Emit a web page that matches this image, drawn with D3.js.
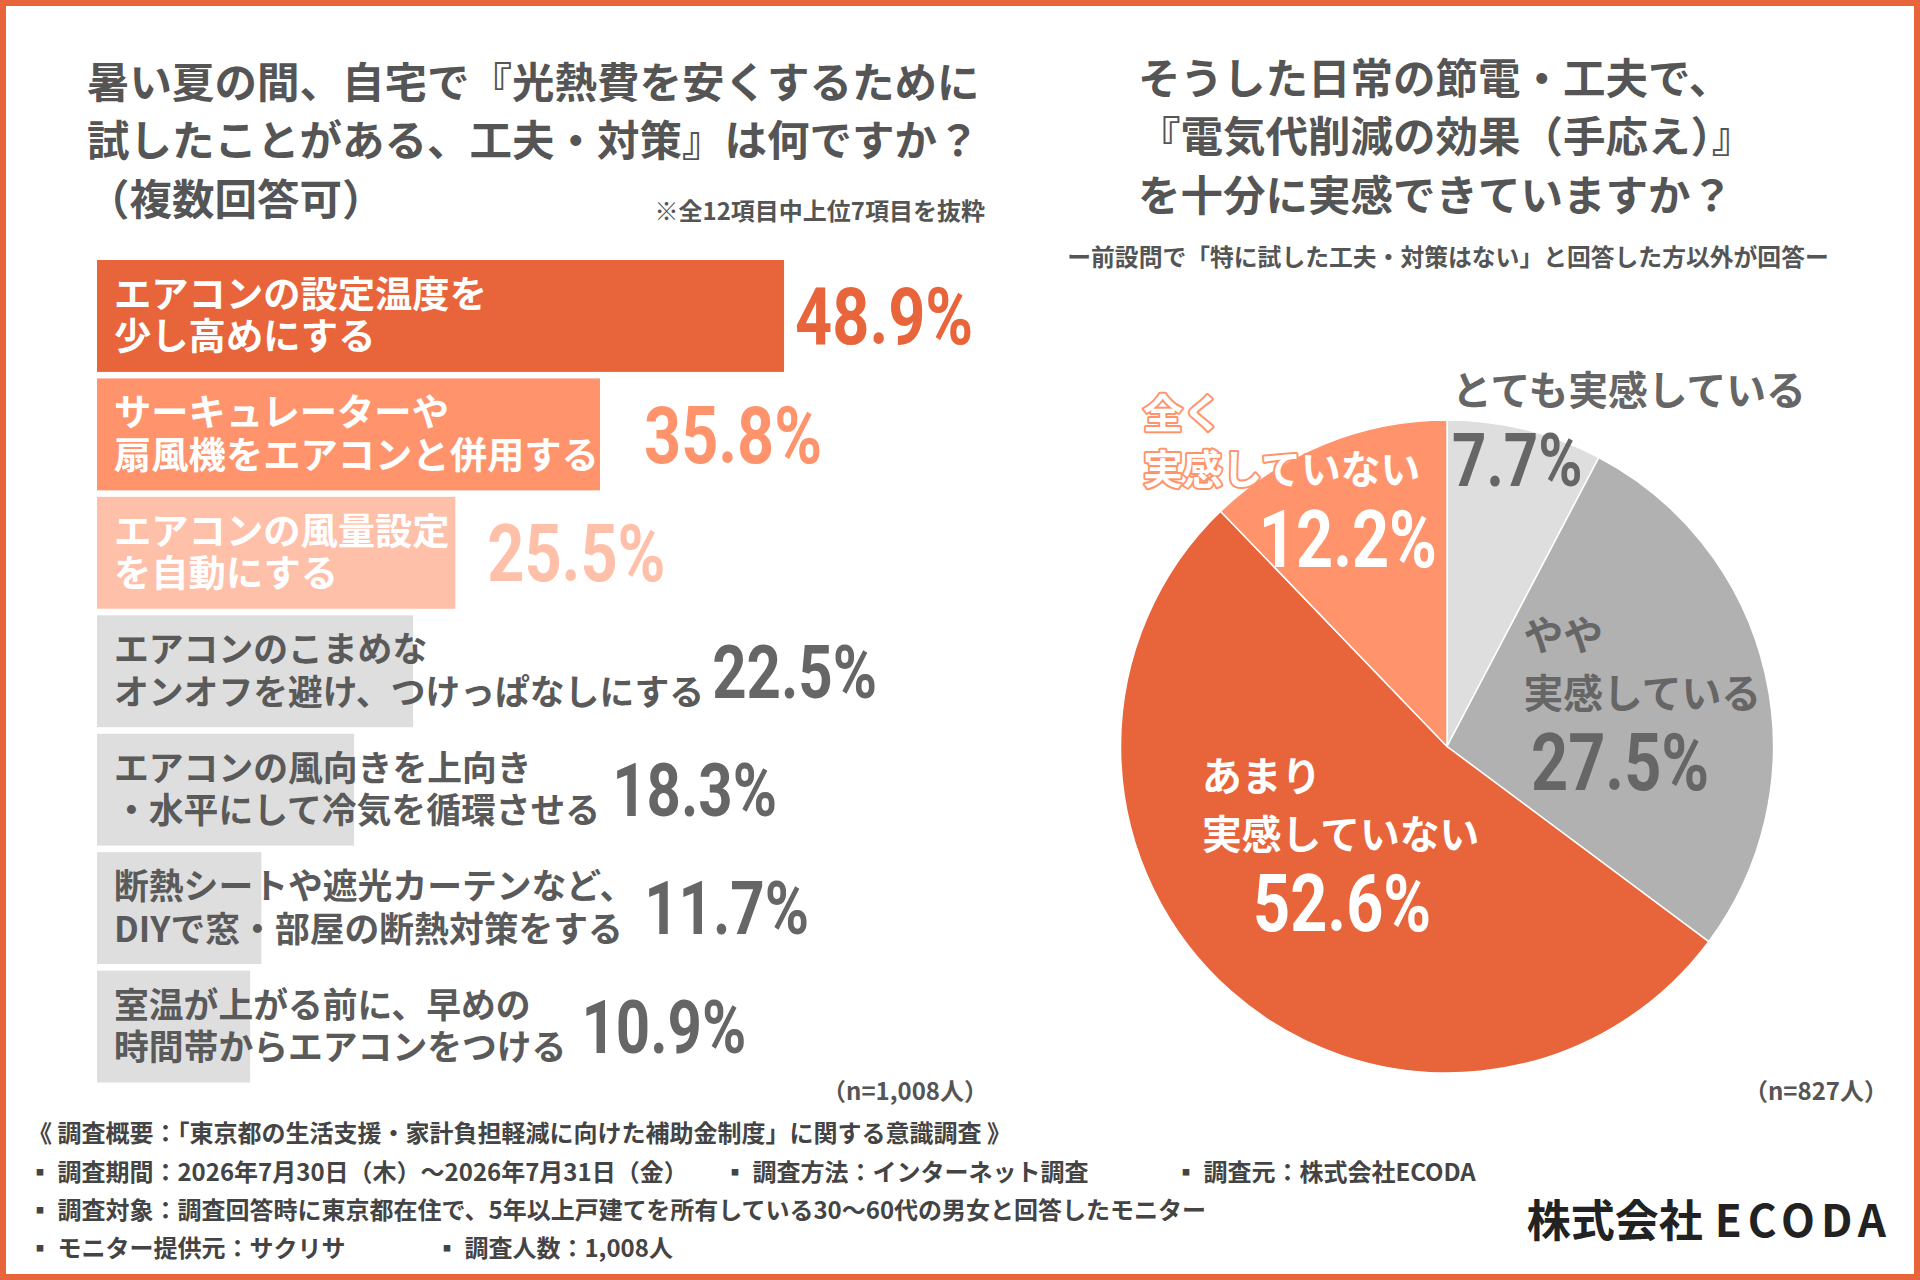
<!DOCTYPE html>
<html>
<head>
<meta charset="utf-8">
<script src="https://cdn.jsdelivr.net/npm/d3@7"></script>
<style>
  body { margin: 0; background: #fff; }
  text { font-family: "Noto Sans CJK JP", sans-serif; font-weight: 700; }
</style>
</head>
<body>
<svg id="chart" width="1920" height="1280"></svg>
<script>
// left chart: tried measures (top 7 of 12)
const barLabels = [
  ["エアコンの設定温度を", "少し高めにする"],
  ["サーキュレーターや", "扇風機をエアコンと併用する"],
  ["エアコンの風量設定", "を自動にする"],
  ["エアコンのこまめな", "オンオフを避け、つけっぱなしにする"],
  ["エアコンの風向きを上向き", "・水平にして冷気を循環させる"],
  ["断熱シートや遮光カーテンなど、", "DIYで窓・部屋の断熱対策をする"],
  ["室温が上がる前に、早めの", "時間帯からエアコンをつける"]
];
const barValues = [48.9, 35.8, 25.5, 22.5, 18.3, 11.7, 10.9];

// right chart: felt effect
const pieLabels = [
  ["とても実感している"],
  ["やや", "実感している"],
  ["あまり", "実感していない"],
  ["全く", "実感していない"]
];
const pieValues = [7.7, 27.5, 52.6, 12.2];

const leftTitle = ["暑い夏の間、自宅で『光熱費を安くするために", "試したことがある、工夫・対策』は何ですか？", "（複数回答可）"];
const rightTitle = ["そうした日常の節電・工夫で、", "『電気代削減の効果（手応え）』", "を十分に実感できていますか？"];

const ORANGE = "#E8643A", SALMON = "#FF946C", PEACH = "#FFC0AA", LGRAY = "#DEDEDE", MGRAY = "#B1B1B1";
const barColors = [ORANGE, SALMON, PEACH, LGRAY, LGRAY, LGRAY, LGRAY];
const pieColors = [LGRAY, MGRAY, ORANGE, SALMON];
// space between bar/label end and the value label
const valueGap = [11, 44, 32, 8, 12, 10, 15];

const svg = d3.select("#chart");

// condensed number text (baseline at y)
function bigNum(g, txt, x, y, size, color, anchor) {
  return g.append("text")
    .attr("transform", `translate(${x},${y}) scale(0.81,1)`)
    .attr("text-anchor", anchor || "start")
    .style("font-family", "Roboto, sans-serif")
    .style("font-size", size + "px")
    .attr("fill", color)
    .text(txt);
}

// titles
leftTitle.forEach((t, i) => {
  svg.append("text").attr("x", 87).attr("y", 79 + i * 58.5)
    .attr("dominant-baseline", "central")
    .style("font-size", "42.5px").attr("fill", "#555").text(t);
});
svg.append("text").attr("x", 985).attr("y", 209).attr("text-anchor", "end")
  .attr("dominant-baseline", "central")
  .style("font-size", "24px").attr("fill", "#555").text("※全12項目中上位7項目を抜粋");

rightTitle.forEach((t, i) => {
  svg.append("text").attr("x", 1138).attr("y", 75 + i * 58.5)
    .attr("dominant-baseline", "central")
    .style("font-size", "42.5px").attr("fill", "#555").text(t);
});
svg.append("text").attr("x", 1448).attr("y", 255).attr("text-anchor", "middle")
  .attr("dominant-baseline", "central")
  .style("font-size", "23.8px").attr("fill", "#555")
  .text("ー前設問で「特に試した工夫・対策はない」と回答した方以外が回答ー");

// bar chart
const x = d3.scaleLinear().domain([0, 50]).range([97, 97 + 702.5]);
const y = d3.scaleBand().domain(d3.range(barValues.length)).range([260, 1082.5]).paddingInner(0.055);

const bars = svg.append("g");
barValues.forEach((v, i) => {
  const g = bars.append("g");
  const cy = y(i) + y.bandwidth() / 2;
  g.append("rect").attr("x", x(0)).attr("y", y(i))
    .attr("width", x(v) - x(0)).attr("height", y.bandwidth())
    .attr("fill", barColors[i]);
  const fs = i < 3 ? 37.3 : 34.8;
  let maxW = 0;
  barLabels[i].forEach((line, j) => {
    const t = g.append("text").attr("x", 114).attr("y", cy + (j === 0 ? -24 : 18.5))
      .attr("dominant-baseline", "central")
      .style("font-size", fs + "px")
      .attr("fill", i < 3 ? "#fff" : "#5a5a5a").text(line);
    maxW = Math.max(maxW, t.node().getComputedTextLength());
  });
  const nx = Math.max(x(v), 114 + maxW) + valueGap[i];
  const ns = i < 3 ? 80 : 74;
  bigNum(g, v.toFixed(1) + "%", nx, cy + ns * 0.711 / 2, ns, i < 3 ? barColors[i] : "#666");
});
svg.append("text").attr("x", 988).attr("y", 1089).attr("text-anchor", "end")
  .attr("dominant-baseline", "central")
  .style("font-size", "24px").attr("fill", "#555").text("（n=1,008人）");

// pie chart
const pcx = 1447, pcy = 746.5, R = 326.5;
const pie = d3.pie().sort(null).value(d => d);
const arc = d3.arc().innerRadius(0).outerRadius(R);
const pg = svg.append("g").attr("transform", `translate(${pcx},${pcy})`);
pg.selectAll("path").data(pie(pieValues)).join("path")
  .attr("d", arc).attr("fill", (d, i) => pieColors[i])
  .attr("stroke", "#fff").attr("stroke-width", 1.5);

// label placement relative to the pie centre
const pieLabelLayout = [
  { tx: 5, ty: [-359], nx: 5, ny: -260.5, ns: 74, anchor: "start", fill: "#666" },
  { tx: 76.5, ty: [-114, -56], nx: 84, ny: 43.5, ns: 80, anchor: "start", fill: "#666" },
  { tx: -245, ty: [27, 84.5], nx: -194, ny: 184.5, ns: 80, anchor: "start", fill: "#fff" },
  { tx: -304, ty: [-336, -280], nx: -10, ny: -179.5, ns: 80, anchor: "end", fill: "#fff", outline: SALMON }
];
pieValues.forEach((v, i) => {
  const L = pieLabelLayout[i];
  pieLabels[i].forEach((line, j) => {
    const t = pg.append("text").attr("x", L.tx).attr("y", L.ty[j])
      .attr("dominant-baseline", "central")
      .style("font-size", "39.8px").attr("fill", L.fill).text(line);
    if (L.outline) t.attr("stroke", L.outline).attr("stroke-width", 4)
      .attr("stroke-linejoin", "round").attr("paint-order", "stroke");
  });
  bigNum(pg, v.toFixed(1) + "%", L.nx, L.ny, L.ns, L.fill, L.anchor);
});
svg.append("text").attr("x", 1888).attr("y", 1089).attr("text-anchor", "end")
  .attr("dominant-baseline", "central")
  .style("font-size", "24px").attr("fill", "#555").text("（n=827人）");

// survey notes
const notes = [
  { x: 28, y: 1131, t: "《 調査概要：「東京都の生活支援・家計負担軽減に向けた補助金制度」に関する意識調査 》" },
  { x: 28, y: 1170, t: "▪ 調査期間：2026年7月30日（木）～2026年7月31日（金）" },
  { x: 723, y: 1170, t: "▪ 調査方法：インターネット調査" },
  { x: 1174, y: 1170, t: "▪ 調査元：株式会社ECODA" },
  { x: 28, y: 1208, t: "▪ 調査対象：調査回答時に東京都在住で、5年以上戸建てを所有している30～60代の男女と回答したモニター" },
  { x: 28, y: 1246, t: "▪ モニター提供元：サクリサ" },
  { x: 435, y: 1246, t: "▪ 調査人数：1,008人" }
];
notes.forEach(n => {
  svg.append("text").attr("x", n.x).attr("y", n.y)
    .attr("dominant-baseline", "central")
    .style("font-size", "24px").attr("fill", "#444").text(n.t);
});
const logo = svg.append("text").attr("x", 1892).attr("y", 1218).attr("text-anchor", "end")
  .attr("dominant-baseline", "central")
  .style("font-size", "44px").attr("fill", "#222");
logo.append("tspan").text("株式会社");
logo.append("tspan").attr("dx", 12).style("letter-spacing", "6px").text("ECODA");

// frame
svg.append("rect").attr("x", 0).attr("y", 0).attr("width", 1920).attr("height", 1280)
  .attr("fill", "none").attr("stroke", ORANGE).attr("stroke-width", 12);
</script>
</body>
</html>
